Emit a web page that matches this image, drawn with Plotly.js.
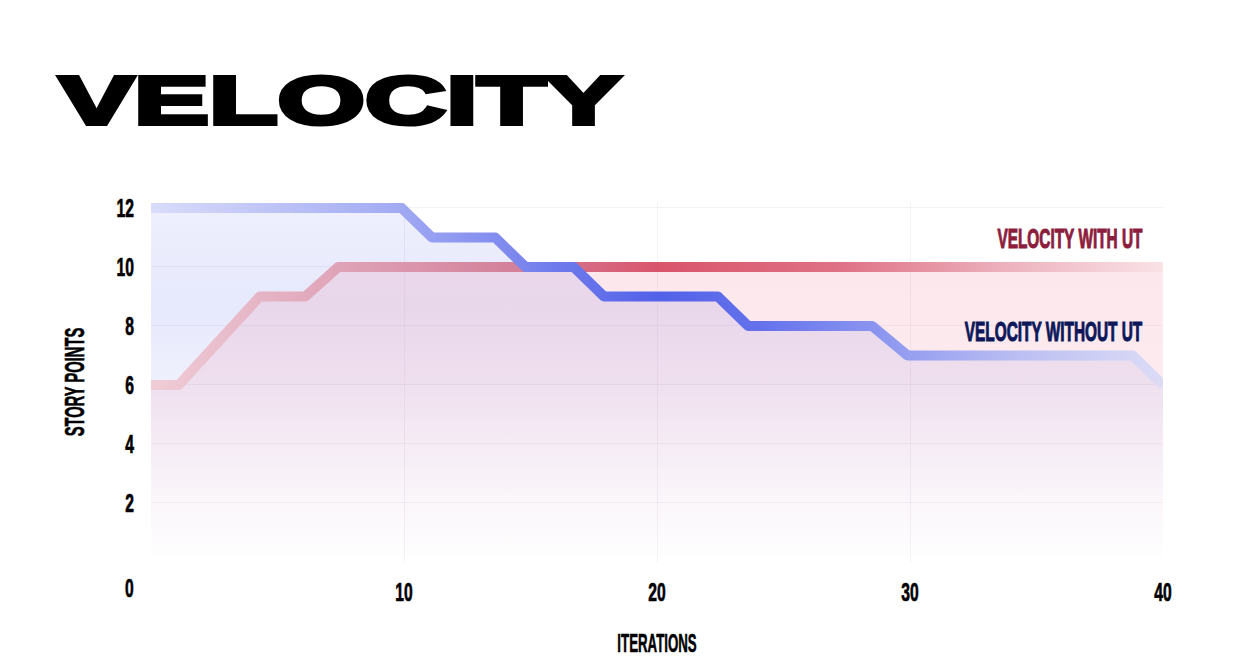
<!DOCTYPE html>
<html>
<head>
<meta charset="utf-8">
<script src="https://cdn.plot.ly/plotly-3.0.1.min.js"></script>
<style>
  html, body { margin: 0; padding: 0; background: #ffffff; }
  #chart { width: 1252px; height: 658px; }
</style>
</head>
<body>
<div id="chart"></div>
<script>
// ---- data ----
const chartTitle = 'VELOCITY';
const xAxisTitle = 'ITERATIONS';
const yAxisTitle = 'STORY POINTS';
const seriesNames = ['VELOCITY WITH UT', 'VELOCITY WITHOUT UT'];

const iterWith = [0, 1.1, 4.3, 6.1, 7.4, 40];
const pointsWith = [6, 6, 9, 9, 10, 10];

const iterWithout = [0, 9.9, 11.1, 13.6, 14.8, 16.7, 17.9, 22.4, 23.6, 28.5, 29.9, 38.8, 40];
const pointsWithout = [12, 12, 11, 11, 10, 10, 9, 9, 8, 8, 7, 7, 6];

const xTickVals = [0, 10, 20, 30, 40];
const xTickText = ['', '10', '20', '30', '40'];
const yTickVals = [0, 2, 4, 6, 8, 10, 12];
const yTickText = ['', '2', '4', '6', '8', '10', '12'];
const cornerLabel = '0';

// ---- styling ----
const condFont = 'Liberation Sans, Arial, sans-serif';

const traces = [
  { // fill under "without UT"
    x: iterWithout, y: pointsWithout, type: 'scatter', mode: 'lines',
    line: { width: 0, color: 'rgba(0,0,0,0)' },
    fill: 'tozeroy',
    fillgradient: { type: 'vertical', colorscale: [
      [0, 'rgba(110,125,240,0)'], [0.2, 'rgba(110,125,240,0.03)'],
      [0.5, 'rgba(110,125,240,0.11)'], [0.72, 'rgba(110,125,240,0.17)'],
      [1, 'rgba(110,125,240,0.12)'] ] },
    hoverinfo: 'skip', showlegend: false
  },
  { // fill under "with UT"
    x: iterWith, y: pointsWith, type: 'scatter', mode: 'lines',
    line: { width: 0, color: 'rgba(0,0,0,0)' },
    fill: 'tozeroy',
    fillgradient: { type: 'vertical', colorscale: [
      [0, 'rgba(240,140,165,0)'], [0.25, 'rgba(240,140,165,0.06)'],
      [0.65, 'rgba(240,140,165,0.18)'], [1, 'rgba(240,140,165,0.21)'] ] },
    hoverinfo: 'skip', showlegend: false
  },
  {
    name: seriesNames[0], x: iterWith, y: pointsWith, type: 'scatter', mode: 'lines',
    line: { width: 10, color: '#d9556c', shape: 'linear' },
    showlegend: false
  },
  {
    name: seriesNames[1], x: iterWithout, y: pointsWithout, type: 'scatter', mode: 'lines',
    line: { width: 10, color: '#5262e8', shape: 'linear' },
    showlegend: false
  }
];

const tickFont = { family: condFont, size: 26, weight: 700, color: '#000000' };

const layout = {
  width: 1252, height: 658,
  margin: { l: 151, r: 89, t: 202, b: 96 },
  paper_bgcolor: '#ffffff', plot_bgcolor: '#ffffff',
  hovermode: false, showlegend: false,
  title: {
    text: chartTitle, xref: 'container', yref: 'container',
    x: 59 / 1252, xanchor: 'left', y: 1 - 100 / 658, yanchor: 'middle',
    font: { family: condFont, size: 68, weight: 700, color: '#000000' }
  },
  xaxis: {
    range: [0, 40], tickvals: xTickVals, ticktext: xTickText,
    showgrid: true, gridcolor: 'rgba(190,170,200,0.16)', gridwidth: 1,
    zeroline: false, showline: false, ticks: '', ticklabelstandoff: 12,
    tickfont: tickFont, fixedrange: true,
    title: { text: xAxisTitle, standoff: 34,
      font: { family: condFont, size: 26, weight: 700, color: '#000000' } }
  },
  yaxis: {
    range: [0, 12.2], tickvals: yTickVals, ticktext: yTickText,
    showgrid: true, gridcolor: 'rgba(190,170,200,0.16)', gridwidth: 1,
    zeroline: false, showline: false, ticks: '', ticklabelstandoff: 16,
    tickfont: tickFont, fixedrange: true,
    title: { text: yAxisTitle, standoff: 12,
      font: { family: condFont, size: 27, weight: 700, color: '#000000' } }
  },
  annotations: [
    { text: seriesNames[0], x: 36.32, y: 10.98, xref: 'x', yref: 'y',
      xanchor: 'center', yanchor: 'middle', showarrow: false,
      font: { family: condFont, size: 28, weight: 700, color: '#8c1d3d' } },
    { text: seriesNames[1], x: 35.69, y: 7.82, xref: 'x', yref: 'y',
      xanchor: 'center', yanchor: 'middle', showarrow: false,
      font: { family: condFont, size: 28, weight: 700, color: '#0c185a' } },
    { text: cornerLabel, x: 0, y: 0, xref: 'x', yref: 'y',
      xanchor: 'center', yanchor: 'middle', xshift: -22, yshift: -26, showarrow: false,
      font: tickFont }
  ]
};

function squeeze(el, factor, target) {
  const w = el.getComputedTextLength();
  if (!w) return;
  el.setAttribute('textLength', (target || w * factor).toFixed(1));
  el.setAttribute('lengthAdjust', 'spacingAndGlyphs');
}

function scaleAroundCenter(el, s) {
  const bb = el.getBBox();
  const cx = bb.x + bb.width / 2;
  const prev = el.getAttribute('transform') || '';
  el.setAttribute('transform', prev + ' translate(' + cx.toFixed(2) + ',0) scale(' + s + ',1) translate(' + (-cx).toFixed(2) + ',0)');
}

function addGradient(defs, id, stops) {
  const ns = 'http://www.w3.org/2000/svg';
  const g = document.createElementNS(ns, 'linearGradient');
  g.setAttribute('id', id);
  g.setAttribute('x1', '0'); g.setAttribute('y1', '0');
  g.setAttribute('x2', '1'); g.setAttribute('y2', '0');
  stops.forEach(function (s) {
    const st = document.createElementNS(ns, 'stop');
    st.setAttribute('offset', s[0]);
    st.setAttribute('stop-color', s[1]);
    g.appendChild(st);
  });
  defs.appendChild(g);
}

const gd = document.getElementById('chart');
Plotly.newPlot(gd, traces, layout, { displayModeBar: false, staticPlot: true }).then(function () {
  const svg = gd.querySelector('svg.main-svg');
  let defs = svg.querySelector('defs');
  if (!defs) { defs = document.createElementNS('http://www.w3.org/2000/svg', 'defs'); svg.insertBefore(defs, svg.firstChild); }
  addGradient(defs, 'gradWithUT', [
    [0, '#efcdd7'], [0.2, '#dea0b5'], [0.36, '#d3809a'], [0.5, '#d9556c'],
    [0.68, '#df7185'], [0.84, '#ecb0bc'], [1, '#fae2e7']
  ]);
  addGradient(defs, 'gradWithoutUT', [
    [0, '#d9dcfa'], [0.24, '#a3abf3'], [0.4, '#6f7bec'], [0.5, '#5262e8'],
    [0.6, '#6471eb'], [0.73, '#8f99f0'], [0.86, '#bcbff2'], [1, '#dcdcf6']
  ]);
  const traceGroups = gd.querySelectorAll('.scatterlayer .trace');
  const redLine = traceGroups[2] && traceGroups[2].querySelector('path.js-line');
  const blueLine = traceGroups[3] && traceGroups[3].querySelector('path.js-line');
  if (redLine) { redLine.style.stroke = 'url(#gradWithUT)'; redLine.style.strokeLinejoin = 'round'; }
  if (blueLine) { blueLine.style.stroke = 'url(#gradWithoutUT)'; blueLine.style.strokeLinejoin = 'round'; }

  gd.querySelectorAll('.xtick text, .ytick text').forEach(function (t) {
    squeeze(t, 0.6); t.style.stroke = '#000'; t.style.strokeWidth = '0.7px';
  });
  const anns = gd.querySelectorAll('.annotation-text');
  anns.forEach(function (t) {
    if (t.textContent === cornerLabel) { squeeze(t, 0.6); t.style.stroke = '#000'; t.style.strokeWidth = '0.7px'; }
    else {
      scaleAroundCenter(t, 0.55);
      t.style.stroke = t.style.fill; t.style.strokeWidth = '1.1px';
    }
  });
  const xt = gd.querySelector('.g-xtitle text');
  if (xt) { squeeze(xt, 0.51); xt.style.stroke = '#000'; xt.style.strokeWidth = '0.6px'; }
  const yt = gd.querySelector('.g-ytitle text');
  if (yt) { squeeze(yt, 0.545); yt.style.stroke = '#000'; yt.style.strokeWidth = '0.6px'; }
  const title = gd.querySelector('.gtitle');
  if (title) {
    squeeze(title, 1, 562);
    title.style.stroke = '#000'; title.style.strokeWidth = '4px'; title.style.strokeLinejoin = 'miter';
  }
});
</script>
</body>
</html>
